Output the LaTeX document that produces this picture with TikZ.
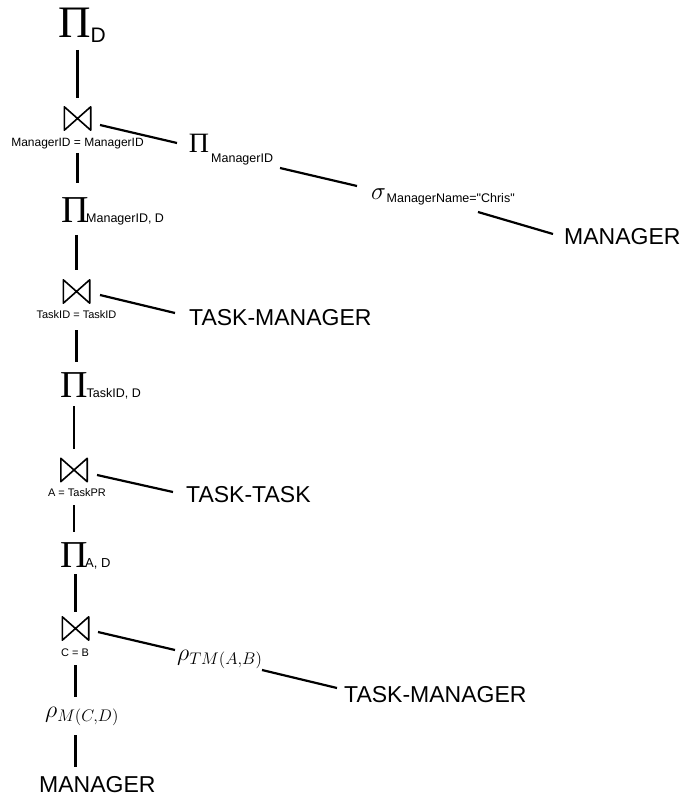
\RequirePackage{fix-cm}
\documentclass[tikz,border=0pt]{standalone}
\usepackage[no-math]{fontspec}
\newfontfamily\hv{Liberation Sans}
\newfontfamily\tms{Liberation Serif}
\usetikzlibrary{calc}

\tikzset{
  pisym/.style={inner sep=0pt, anchor=base, font={\tms\fontsize{38}{40}\selectfont}},
  subtxt/.style={inner sep=0pt, anchor=base west, font={\hv\fontsize{12.5}{14}\selectfont}},
  reltxt/.style={inner sep=0pt, anchor=base west, font={\hv\fontsize{23}{26}\selectfont}},
  condtxt/.style={inner sep=0pt, anchor=base, font={\hv\fontsize{11}{13}\selectfont}},
  greekop/.style={inner sep=0pt, anchor=base west, font={\fontsize{24}{28}\selectfont}},
  joinnode/.style={inner sep=0pt, minimum width=26pt, minimum height=23pt},
  bow/.style={line width=1.6pt, line join=round},
  link/.style={line width=2.2pt},
}

\begin{document}
\begin{tikzpicture}[x=1pt, y=-1pt]
  \fill[white] (0,0) rectangle (690,799);
  \useasboundingbox (0,0) rectangle (690,799);

  % projection on D at the root
  \node[pisym, font={\tms\fontsize{45}{48}\selectfont}] (pD) at (75,38) {Π};
  \node[subtxt, font={\hv\fontsize{21}{24}\selectfont}] (pDs) at (90.5,43) {D};

  % first join and its manager branch
  \node[joinnode] (j1) at (77.5,118.5) {};
  \node[condtxt, font={\hv\fontsize{12}{14}\selectfont}] (l1) at (77.5,147) {ManagerID = ManagerID};
  \node[pisym, font={\tms\fontsize{28}{30}\selectfont}] (pM) at (199,153) {Π};
  \node[subtxt] (pMs) at (211,163) {ManagerID};
  \node[inner sep=0pt, anchor=base, font={\fontsize{25}{28}\selectfont}] (sig) at (378.5,200) {$\sigma$};
  \node[subtxt] (sigs) at (386.5,203) {ManagerName="Chris"};
  \node[reltxt] (m1) at (564,245) {MANAGER};

  % second join
  \node[pisym] (p2) at (75,223) {Π};
  \node[subtxt] (p2s) at (86,223) {ManagerID, D};
  \node[joinnode] (j2) at (76.5,291.5) {};
  \node[condtxt] (l2) at (76.5,318) {TaskID = TaskID};
  \node[reltxt] (tm1) at (189,325) {TASK-MANAGER};

  % third join
  \node[pisym] (p3) at (74,397) {Π};
  \node[subtxt] (p3s) at (86.5,397) {TaskID, D};
  \node[joinnode] (j3) at (74,470) {};
  \node[condtxt] (l3) at (77,496) {A = TaskPR};
  \node[reltxt] (tt) at (186,502) {TASK-TASK};

  % fourth join and the renamed leaves
  \node[pisym] (p4) at (74,567) {Π};
  \node[subtxt, font={\hv\fontsize{13}{15}\selectfont}] (p4s) at (85,567) {A, D};
  \node[joinnode] (j4) at (75.5,628.5) {};
  \node[condtxt] (l4) at (75,656) {C = B};
  \node[greekop] (rT) at (177,660) {$\rho_{TM(A,B)}$};
  \node[reltxt] (tm2) at (344,702) {TASK-MANAGER};
  \node[greekop] (rM) at (45,717) {$\rho_{M(C,D)}$};
  \node[reltxt] (m2) at (39,792) {MANAGER};

  % bowtie join symbols
  \foreach \j in {j1,j2,j3,j4}
    \draw[bow] (\j.north west) -- (\j.south east) -- (\j.north east) -- (\j.south west) -- cycle;

  % vertical spine
  \draw[link] ($(j1.north |- pD.base)+(0,12)$) -- ($(j1.north)+(0,-9)$);
  \draw[link] ($(j1.south |- l1.base)+(0,6)$) -- ($(j1.south |- p2.base)+(0,-40)$);
  \draw[link] ($(j2.north |- p2.base)+(0,12)$) -- ($(j2.north)+(0,-10)$);
  \draw[link] ($(j2.south |- l2.base)+(0,12)$) -- ($(j2.south |- p3.base)+(0,-35)$);
  \draw[link] ($(j3.north |- p3.base)+(0,9)$) -- ($(j3.north)+(0,-9)$);
  \draw[link] ($(j3.south |- l3.base)+(0,9)$) -- ($(j3.south |- p4.base)+(0,-35)$);
  \draw[link] ($(j4.north |- p4.base)+(0,7)$) -- ($(j4.north)+(0,-5)$);
  \draw[link] ($(j4.south |- l4.base)+(0,9)$) -- ($(j4.south |- rM.base)+(0,-20)$);
  \draw[link] ($(j4.south |- rM.base)+(0,18)$) -- ($(j4.south |- m2.base)+(0,-25)$);

  % side branches
  \draw[link] ($(j1)+(22.5,6.5)$) -- ($(pM.base)+(-22,-10)$);
  \draw[link] ($(pM.base)+(81,15)$) -- ($(sig.base)+(-21.5,-14)$);
  \draw[link] ($(sig.base)+(99.5,12)$) -- ($(m1.base west)+(-11,-11)$);
  \draw[link] ($(j2)+(23.5,3.5)$) -- ($(tm1.base west)+(-14,-12)$);
  \draw[link] ($(j3)+(23,5)$) -- ($(tt.base west)+(-13,-10)$);
  \draw[link] ($(j4)+(22.5,3.5)$) -- ($(rT.base west)+(-2,-10)$);
  \draw[link] ($(rT.base west)+(85,10)$) -- ($(tm2.base west)+(-7,-14)$);
\end{tikzpicture}
\end{document}
